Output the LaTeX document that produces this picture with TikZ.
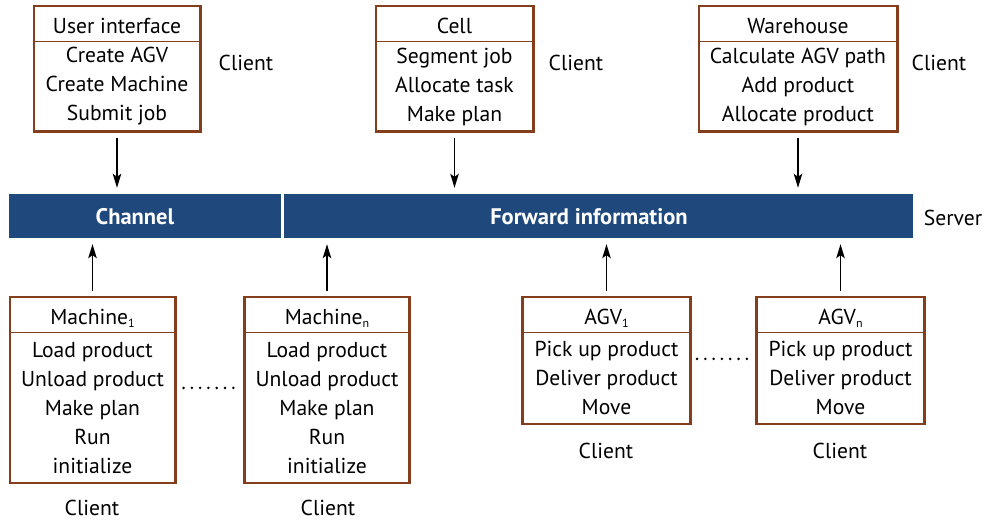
\documentclass[tikz,border=0pt]{standalone}
\usepackage{fontspec}
\setmainfont{PT Sans}
\usetikzlibrary{arrows.meta,fit,positioning}
\definecolor{boxbrown}{RGB}{132,62,28}
\definecolor{barblue}{RGB}{31,73,125}
\newcommand\fs{\fontsize{21.6}{29}\selectfont}
\newcommand\idx[1]{\raisebox{-2.5pt}{\fontsize{12}{12}\selectfont #1}}
\tikzset{
  hdr/.style={anchor=north, inner sep=0pt, minimum height=35pt,
    text height=20pt, text depth=0pt, font=\fs},
  body/.style={anchor=north, inner sep=0pt, align=center, font=\fs},
  frame/.style={draw=boxbrown, line width=2.6pt, inner sep=0pt},
  divider/.style={draw=boxbrown, line width=1.3pt},
  bar/.style={fill=barblue, inner sep=0pt, minimum height=44pt},
  bartext/.style={text=white, font=\fontsize{22.5}{29}\selectfont\bfseries},
  lbl/.style={font=\fs},
  link/.style={-{Stealth[length=14pt,width=8.5pt,inset=3pt]}, line width=1.3pt,
    shorten <=5pt, shorten >=6pt},
  gap/.style={line width=2.8pt, line cap=round, dash pattern=on 0pt off 8.3pt}
}
\begin{document}
\begin{tikzpicture}[x=1pt,y=-1pt]
\useasboundingbox (0,0) rectangle (991,521);

% server bars
\node[bar, minimum width=272pt] (chan) at (145,216) {};
\node[bar, minimum width=629pt] (fwd) at (598.5,216) {};
\node[bartext] (chant) at (135,217) {Channel};
\node[bartext] (fwdt) at (589,217) {Forward information};
\node[lbl] (srv) at (953,218) {Server};

% top clients
\node[hdr, minimum width=166pt] (uih) at (117,6) {User interface};
\node[body, minimum width=166pt, minimum height=90pt] (uib) at (uih.south)
  {Create AGV\\Create Machine\\Submit job};
\node[frame, fit=(uih)(uib)] (ui) {};
\draw[divider] (uih.south west) -- (uih.south east);
\node[lbl] (uic) at (246,63) {Client};

\node[hdr, minimum width=157pt] (cellh) at (454.5,6) {Cell};
\node[body, minimum width=157pt, minimum height=90pt] (cellb) at (cellh.south)
  {Segment job\\Allocate task\\Make plan};
\node[frame, fit=(cellh)(cellb)] (cell) {};
\draw[divider] (cellh.south west) -- (cellh.south east);
\node[lbl] (cellc) at (576,63) {Client};

\node[hdr, minimum width=198pt] (wh) at (798,6) {Warehouse};
\node[body, minimum width=198pt, minimum height=90pt] (wb) at (wh.south)
  {Calculate AGV path\\Add product\\Allocate product};
\node[frame, fit=(wh)(wb)] (ware) {};
\draw[divider] (wh.south west) -- (wh.south east);
\node[lbl] (warec) at (939,63) {Client};

% bottom clients: machines
\node[hdr, minimum width=165pt] (m1h) at (92.5,297) {Machine\idx{1}};
\node[body, minimum width=165pt, minimum height=150pt] (m1b) at (m1h.south)
  {Load product\\Unload product\\Make plan\\Run\\initialize};
\node[frame, fit=(m1h)(m1b)] (m1) {};
\draw[divider] (m1h.south west) -- (m1h.south east);
\node[lbl] (m1c) at (92,508) {Client};

\node[hdr, minimum width=165pt] (mnh) at (327,297) {Machine\idx{n}};
\node[body, minimum width=165pt, minimum height=150pt] (mnb) at (mnh.south)
  {Load product\\Unload product\\Make plan\\Run\\initialize};
\node[frame, fit=(mnh)(mnb)] (mn) {};
\draw[divider] (mnh.south west) -- (mnh.south east);
\node[lbl] (mnc) at (328,508) {Client};

% bottom clients: AGVs
\node[hdr, minimum width=168pt] (a1h) at (606.5,297) {AGV\idx{1}};
\node[body, minimum width=168pt, minimum height=91pt] (a1b) at (a1h.south)
  {Pick up product\\Deliver product\\Move};
\node[frame, fit=(a1h)(a1b)] (a1) {};
\draw[divider] (a1h.south west) -- (a1h.south east);
\node[lbl] (a1c) at (606,451) {Client};

\node[hdr, minimum width=168pt] (anh) at (840.5,297) {AGV\idx{n}};
\node[body, minimum width=168pt, minimum height=91pt] (anb) at (anh.south)
  {Pick up product\\Deliver product\\Move};
\node[frame, fit=(anh)(anb)] (an) {};
\draw[divider] (anh.south west) -- (anh.south east);
\node[lbl] (anc) at (840,451) {Client};

% connections to the server
\draw[link] (ui.south) -- (ui.south |- chan.north);
\draw[link] (cell.south) -- (cell.south |- fwd.north);
\draw[link] (ware.south) -- (ware.south |- fwd.north);
\draw[link] (m1.north) -- (m1.north |- chan.south);
\draw[link] (mn.north) -- (mn.north |- fwd.south);
\draw[link] (a1.north) -- (a1.north |- fwd.south);
\draw[link] (an.north) -- (an.north |- fwd.south);

% ellipses between repeated clients
\draw[gap, shorten <=7pt, shorten >=7pt] ([yshift=2pt]m1.east) -- ([yshift=2pt]m1.east -| mn.west);
\draw[gap, shorten <=5pt, shorten >=5pt] ([yshift=1.5pt]a1.east) -- ([yshift=1.5pt]a1.east -| an.west);
\end{tikzpicture}
\end{document}
